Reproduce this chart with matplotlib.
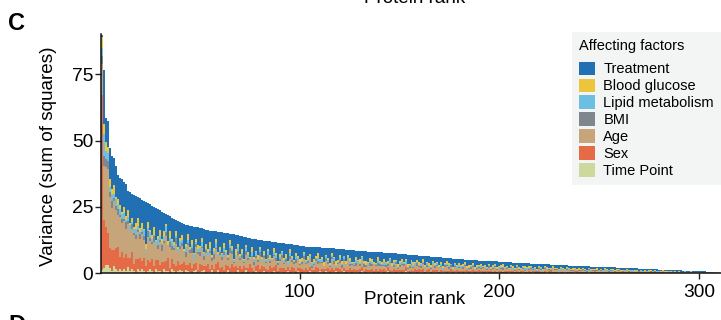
import matplotlib
matplotlib.use("Agg")
import matplotlib.pyplot as plt
import numpy as np
from matplotlib.patches import Patch

plt.rcParams['font.family'] = ['Liberation Sans', 'DejaVu Sans']

# ---------------- data ----------------
factors = ["Treatment", "Blood glucose", "Lipid metabolism", "BMI", "Age", "Sex", "Time Point"]
colors = ["#2270b4", "#ecc53c", "#6cbfe2", "#80868e", "#c6a57b", "#e66a45", "#cdd99c"]

# total variance (sum of squares) per protein, ordered by rank
total_variance = [
    90.0, 76.5, 58.5, 57.5, 47.0, 44.0, 43.5, 40.5, 37.0, 36.0,
    35.5, 34.5, 33.5, 31.0, 30.5, 30.0, 29.6, 29.2, 28.7, 28.2,
    27.7, 27.2, 26.8, 26.4, 25.9, 25.3, 24.9, 24.5, 24.0, 23.6,
    23.2, 22.8, 22.4, 21.9, 21.4, 20.9, 20.4, 20.0, 19.6, 19.2,
    18.9, 18.6, 18.3, 18.0, 17.8, 17.6, 17.5, 17.4, 17.3, 17.1,
    16.8, 16.5, 16.3, 16.1, 16.0, 15.9, 15.8, 15.7, 15.6, 15.4,
    15.3, 15.2, 15.1, 15.0, 14.9, 14.8, 14.6, 14.4, 14.2, 14.0,
    13.8, 13.6, 13.5, 13.3, 13.1, 12.9, 12.8, 12.7, 12.5, 12.4,
    12.3, 12.2, 12.1, 12.0, 11.9, 11.8, 11.7, 11.6, 11.5, 11.4,
    11.3, 11.2, 11.1, 11.0, 10.9, 10.8, 10.7, 10.6, 10.5, 10.3,
    10.2, 10.1, 10.0, 9.95, 9.9, 9.85, 9.8, 9.75, 9.7, 9.65,
    9.6, 9.55, 9.5, 9.45, 9.4, 9.35, 9.3, 9.2, 9.1, 9.0,
    8.95, 8.9, 8.85, 8.8, 8.7, 8.6, 8.5, 8.45, 8.4, 8.3,
    8.25, 8.2, 8.15, 8.1, 8.05, 8.0, 7.95, 7.9, 7.85, 7.8,
    7.75, 7.7, 7.65, 7.6, 7.55, 7.5, 7.45, 7.4, 7.35, 7.3,
    7.2, 7.1, 7.0, 6.95, 6.9, 6.85, 6.8, 6.7, 6.65, 6.6,
    6.55, 6.5, 6.45, 6.4, 6.3, 6.2, 6.1, 6.0, 5.95, 5.9,
    5.85, 5.8, 5.7, 5.6, 5.55, 5.5, 5.45, 5.4, 5.3, 5.2,
    5.15, 5.1, 5.05, 5.0, 4.95, 4.9, 4.85, 4.8, 4.75, 4.7,
    4.65, 4.6, 4.6, 4.55, 4.5, 4.5, 4.45, 4.4, 4.35, 4.3,
    4.25, 4.2, 4.15, 4.1, 4.05, 4.0, 3.95, 3.9, 3.85, 3.8,
    3.75, 3.7, 3.7, 3.65, 3.6, 3.55, 3.5, 3.5, 3.45, 3.4,
    3.4, 3.35, 3.3, 3.3, 3.25, 3.2, 3.2, 3.15, 3.1, 3.05,
    3.0, 2.95, 2.9, 2.85, 2.8, 2.8, 2.75, 2.7, 2.7, 2.65,
    2.6, 2.6, 2.55, 2.5, 2.5, 2.45, 2.45, 2.4, 2.4, 2.35,
    2.3, 2.3, 2.25, 2.2, 2.2, 2.15, 2.1, 2.1, 2.05, 2.0,
    1.95, 1.9, 1.9, 1.85, 1.8, 1.8, 1.75, 1.7, 1.7, 1.65,
    1.6, 1.6, 1.55, 1.5, 1.5, 1.45, 1.45, 1.4, 1.35, 1.3,
    1.3, 1.25, 1.2, 1.2, 1.15, 1.1, 1.05, 1.0, 1.0, 0.95,
    0.95, 0.9, 0.9, 0.85, 0.8, 0.8, 0.75, 0.7, 0.7, 0.65,
    0.65, 0.6, 0.6, 0.55, 0.55, 0.5, 0.5, 0.45, 0.45, 0.4,
]

# relative contribution of each factor per protein (estimated shares)
treatment = [
    1, 20, 9, 10, 12, 14, 12, 15, 12, 14,
    16, 12, 15, 10, 16, 13, 18, 14, 11, 16,
    12, 15, 17, 10, 14, 16, 11, 17, 14, 10,
    15, 10, 5, 16, 8, 12, 15, 6, 17, 10,
    8, 16, 12, 5, 15, 9, 17, 7, 12, 14,
    6, 16, 10, 14, 8, 18, 12, 5, 15, 10,
    16, 7, 12, 15, 5, 10, 17, 11, 7, 14,
    9, 18, 6, 12, 15, 7, 16, 10, 12, 5,
    15, 9, 16, 7, 12, 14, 5, 10, 17, 11,
    7, 14, 9, 16, 5, 12, 15, 8, 10, 16,
    12, 5, 15, 10, 7, 16, 12, 9, 6, 14,
    10, 15, 7, 12, 16, 5, 10, 14, 12, 7,
    15, 7, 12, 5, 10, 14, 16, 7, 12, 9,
    5, 12, 10, 15, 7, 10, 13, 16, 6, 10,
    12, 7, 15, 10, 5, 13, 10, 7, 15, 12,
    7, 10, 5, 13, 15, 7, 10, 12, 5, 11,
    11, 5, 13, 8, 10, 15, 6, 10, 7, 13,
    8, 13, 10, 5, 8, 11, 14, 7, 10, 6,
    11, 8, 5, 13, 10, 8, 6, 14, 12, 7,
    6, 10, 8, 14, 6, 12, 8, 5, 11, 8,
    8, 5, 11, 8, 13, 6, 8, 14, 6, 9,
    12, 8, 6, 11, 8, 5, 11, 8, 13, 6,
    8, 14, 6, 8, 11, 8, 5, 11, 8, 12,
    6, 8, 12, 5, 8, 13, 8, 6, 14, 8,
    11, 6, 8, 14, 5, 8, 11, 8, 6, 12,
    8, 12, 5, 8, 11, 6, 8, 14, 8, 5,
    11, 8, 9, 5, 12, 8, 6, 11, 8, 13,
    5, 11, 8, 12, 6, 8, 13, 6, 9, 11,
    8, 5, 12, 8, 9, 11, 5, 8, 12, 8,
    12, 8, 5, 11, 8, 6, 13, 8, 11, 5,
    8, 12, 8, 6, 11, 8, 12, 6, 8, 11,
]
blood_glucose = [
    4, 4, 3, 2, 3, 2, 4, 1, 3, 2,
    1, 3, 2, 4, 1, 2, 1, 3, 4, 2,
    3, 1, 2, 3, 1, 2, 4, 1, 2, 3,
    2, 3, 1, 2, 4, 1, 2, 3, 1, 2,
    3, 1, 2, 4, 1, 3, 1, 2, 3, 1,
    2, 1, 3, 2, 4, 1, 2, 3, 1, 2,
    1, 3, 2, 1, 3, 2, 1, 4, 2, 1,
    3, 1, 2, 3, 1, 4, 2, 1, 3, 2,
    2, 3, 1, 2, 4, 1, 3, 2, 1, 3,
    1, 2, 4, 1, 3, 2, 1, 3, 2, 4,
    3, 2, 1, 4, 2, 1, 3, 2, 4, 1,
    2, 4, 1, 3, 2, 3, 1, 4, 2, 3,
    4, 1, 3, 2, 4, 1, 2, 3, 1, 4,
    2, 3, 4, 1, 3, 4, 2, 1, 4, 2,
    3, 4, 2, 3, 1, 4, 3, 2, 4, 3,
    4, 2, 3, 4, 2, 3, 4, 1, 3, 4,
    2, 4, 3, 2, 4, 3, 1, 4, 2, 3,
    4, 3, 2, 5, 3, 1, 4, 3, 2, 4,
    3, 4, 2, 3, 5, 2, 3, 4, 3, 2,
    4, 2, 5, 3, 2, 4, 3, 2, 4, 3,
    3, 5, 2, 4, 3, 2, 4, 3, 2, 5,
    2, 3, 4, 2, 5, 3, 2, 4, 3, 2,
    4, 2, 3, 5, 2, 4, 3, 2, 4, 3,
    3, 4, 2, 3, 4, 2, 5, 3, 2, 4,
    2, 3, 5, 2, 3, 4, 2, 3, 5, 2,
    4, 2, 3, 4, 2, 3, 5, 2, 3, 4,
    3, 5, 2, 3, 4, 2, 3, 4, 2, 3,
    2, 3, 4, 2, 3, 5, 2, 3, 4, 2,
    5, 2, 3, 4, 2, 3, 4, 2, 3, 5,
    3, 4, 2, 3, 5, 2, 3, 4, 2, 3,
    2, 3, 5, 2, 3, 4, 2, 3, 4, 2,
]
lipid_metabolism = [
    3, 8, 3, 3, 2, 3, 2, 3, 2, 3,
    2, 3, 1, 2, 3, 1, 2, 3, 2, 1,
    2, 3, 1, 2, 3, 2, 1, 2, 3, 2,
    1, 2, 3, 1, 2, 3, 2, 1, 2, 3,
    2, 1, 3, 2, 1, 2, 3, 1, 2, 3,
    3, 2, 1, 3, 2, 1, 2, 3, 2, 1,
    2, 3, 2, 1, 3, 2, 1, 2, 3, 2,
    1, 2, 3, 2, 1, 3, 2, 3, 1, 2,
    3, 1, 2, 3, 2, 1, 3, 2, 1, 2,
    2, 3, 1, 2, 3, 2, 1, 3, 2, 1,
    1, 2, 3, 1, 2, 3, 2, 1, 3, 2,
    3, 1, 2, 3, 1, 2, 3, 2, 1, 3,
    2, 3, 1, 2, 3, 1, 2, 3, 2, 1,
    3, 2, 1, 3, 2, 3, 1, 2, 3, 2,
    1, 3, 2, 1, 3, 2, 3, 1, 2, 3,
    2, 1, 3, 2, 1, 3, 2, 3, 1, 2,
    3, 2, 1, 3, 2, 1, 3, 2, 3, 1,
    2, 3, 2, 1, 3, 2, 1, 3, 2, 3,
    1, 2, 3, 2, 1, 3, 2, 1, 3, 2,
    3, 1, 2, 3, 2, 1, 3, 2, 1, 3,
    2, 3, 1, 2, 3, 2, 1, 3, 2, 1,
    3, 2, 3, 1, 2, 3, 2, 1, 3, 2,
    1, 3, 2, 3, 1, 2, 3, 2, 1, 3,
    2, 1, 3, 2, 3, 1, 2, 3, 2, 1,
    3, 2, 1, 3, 2, 3, 1, 2, 3, 2,
    1, 3, 2, 1, 3, 2, 3, 1, 2, 3,
    2, 1, 3, 2, 1, 3, 2, 3, 1, 2,
    3, 2, 1, 3, 2, 1, 3, 2, 3, 1,
    2, 3, 2, 1, 3, 2, 1, 3, 2, 3,
    1, 2, 3, 2, 1, 3, 2, 1, 3, 2,
    3, 1, 2, 3, 2, 1, 3, 2, 1, 3,
]
bmi = [
    3, 4, 3, 3, 2, 3, 1, 2, 3, 1,
    2, 1, 3, 2, 0, 3, 1, 2, 1, 3,
    1, 2, 0, 3, 2, 1, 3, 0, 2, 1,
    3, 1, 2, 0, 3, 2, 1, 3, 0, 2,
    2, 0, 3, 1, 2, 3, 0, 2, 1, 3,
    1, 3, 2, 0, 1, 2, 3, 1, 0, 2,
    3, 2, 0, 1, 3, 2, 1, 0, 3, 1,
    2, 1, 3, 2, 0, 1, 3, 2, 1, 3,
    0, 2, 1, 3, 2, 0, 1, 3, 2, 1,
    3, 1, 2, 0, 3, 2, 1, 3, 0, 2,
    2, 3, 1, 2, 0, 3, 1, 2, 3, 1,
    1, 0, 3, 2, 1, 2, 3, 0, 1, 3,
    3, 2, 1, 0, 3, 1, 2, 3, 1, 2,
    0, 3, 2, 1, 3, 2, 0, 1, 3, 2,
    2, 1, 3, 2, 1, 0, 3, 2, 1, 3,
    1, 3, 0, 2, 3, 1, 2, 0, 3, 1,
    3, 2, 1, 3, 0, 2, 1, 3, 2, 0,
    2, 0, 3, 1, 2, 3, 1, 2, 0, 3,
    1, 3, 2, 0, 1, 3, 2, 1, 3, 2,
    3, 1, 0, 2, 3, 1, 2, 3, 1, 0,
    2, 3, 1, 2, 0, 3, 1, 2, 3, 1,
    0, 2, 3, 1, 2, 1, 3, 0, 2, 3,
    3, 1, 2, 0, 3, 2, 1, 3, 1, 2,
    1, 2, 0, 3, 1, 3, 2, 1, 0, 3,
    2, 3, 1, 2, 3, 0, 2, 1, 3, 2,
    3, 0, 2, 1, 2, 3, 1, 2, 0, 1,
    1, 2, 3, 0, 2, 1, 3, 2, 1, 3,
    2, 1, 0, 3, 1, 2, 0, 3, 2, 1,
    0, 3, 2, 1, 3, 1, 2, 0, 1, 2,
    3, 1, 2, 3, 0, 2, 3, 1, 2, 3,
    1, 2, 3, 0, 2, 1, 2, 3, 1, 0,
]
age = [
    12, 20, 22, 24, 20, 18, 22, 18, 16, 20,
    14, 18, 12, 18, 14, 12, 16, 10, 14, 10,
    14, 10, 6, 12, 11, 8, 13, 8, 6, 12,
    6, 10, 12, 7, 11, 5, 9, 12, 6, 10,
    11, 6, 5, 12, 7, 10, 3, 9, 11, 6,
    10, 4, 9, 6, 11, 3, 7, 10, 4, 9,
    5, 10, 7, 4, 11, 8, 3, 7, 10, 5,
    8, 2, 10, 7, 4, 9, 5, 7, 3, 10,
    4, 8, 5, 10, 3, 7, 9, 4, 5, 7,
    9, 4, 7, 2, 10, 5, 4, 8, 7, 3,
    5, 10, 4, 7, 9, 2, 5, 7, 4, 8,
    7, 3, 8, 5, 4, 10, 7, 2, 5, 7,
    4, 8, 5, 10, 2, 7, 4, 5, 8, 4,
    8, 5, 2, 7, 5, 4, 8, 5, 7, 4,
    5, 4, 7, 2, 8, 5, 4, 7, 2, 5,
    7, 5, 4, 2, 5, 7, 4, 8, 5, 4,
    4, 7, 5, 4, 2, 5, 8, 4, 5, 7,
    5, 2, 7, 8, 4, 5, 2, 7, 4, 5,
    7, 4, 8, 2, 5, 4, 7, 2, 5, 4,
    4, 7, 5, 4, 7, 2, 5, 8, 4, 5,
    5, 4, 7, 5, 2, 7, 4, 2, 7, 4,
    4, 5, 2, 7, 4, 8, 4, 5, 2, 7,
    5, 2, 7, 4, 5, 2, 7, 4, 5, 2,
    7, 4, 2, 5, 7, 4, 2, 5, 4, 5,
    4, 7, 4, 2, 8, 5, 4, 2, 5, 4,
    5, 4, 7, 5, 2, 4, 5, 4, 7, 5,
    4, 2, 5, 7, 4, 5, 4, 2, 5, 4,
    5, 4, 7, 2, 5, 4, 7, 4, 2, 5,
    4, 7, 2, 5, 4, 2, 7, 5, 4, 4,
    5, 2, 7, 4, 5, 7, 2, 4, 5, 7,
    4, 5, 2, 7, 4, 5, 4, 7, 2, 4,
]
sex = [
    66, 18, 14, 12, 8, 9, 7, 10, 12, 6,
    9, 5, 8, 5, 7, 9, 4, 7, 5, 7,
    4, 7, 3, 6, 4, 7, 4, 5, 6, 3,
    6, 4, 5, 8, 3, 6, 5, 4, 7, 3,
    5, 7, 3, 4, 6, 3, 5, 4, 2, 6,
    4, 3, 5, 6, 2, 4, 3, 5, 6, 3,
    4, 2, 5, 3, 4, 6, 3, 5, 2, 4,
    3, 5, 2, 4, 6, 3, 2, 4, 5, 3,
    5, 3, 4, 2, 5, 4, 3, 6, 2, 4,
    3, 5, 2, 4, 3, 5, 4, 2, 3, 5,
    4, 2, 5, 3, 4, 2, 3, 5, 4, 2,
    3, 4, 2, 5, 3, 4, 2, 3, 5, 4,
    2, 4, 3, 2, 5, 3, 4, 2, 3, 4,
    5, 2, 4, 3, 2, 4, 3, 5, 2, 4,
    3, 4, 2, 5, 3, 2, 4, 3, 2, 4,
    4, 3, 5, 2, 4, 3, 2, 4, 3, 5,
    3, 4, 2, 3, 5, 2, 4, 3, 4, 2,
    4, 2, 3, 4, 2, 5, 3, 2, 4, 3,
    3, 4, 2, 5, 3, 2, 4, 3, 2, 4,
    2, 3, 4, 2, 3, 5, 2, 4, 3, 2,
    4, 2, 3, 4, 2, 3, 4, 2, 5, 3,
    3, 4, 2, 3, 4, 2, 3, 5, 2, 4,
    2, 3, 4, 2, 5, 3, 2, 4, 3, 2,
    4, 3, 2, 4, 3, 2, 4, 3, 5, 2,
    3, 2, 4, 3, 2, 4, 3, 5, 2, 3,
    2, 4, 3, 2, 4, 3, 2, 3, 4, 5,
    4, 3, 2, 4, 3, 2, 4, 3, 2, 3,
    3, 2, 4, 3, 2, 4, 3, 2, 4, 3,
    2, 4, 3, 2, 3, 4, 2, 4, 3, 2,
    3, 2, 4, 3, 2, 3, 4, 2, 3, 4,
    2, 3, 2, 4, 3, 2, 3, 4, 2, 3,
]
time_point = [
    1, 2, 3, 3, 2, 1, 3, 2, 1, 2,
    1, 2, 1, 3, 1, 2, 1, 0, 2, 1,
    2, 1, 0, 1, 2, 1, 0, 2, 1, 1,
    0, 2, 1, 1, 0, 2, 1, 0, 1, 2,
    1, 0, 2, 1, 1, 0, 1, 2, 0, 1,
    1, 2, 0, 1, 1, 2, 0, 1, 2, 0,
    1, 0, 1, 2, 0, 1, 1, 0, 2, 1,
    0, 1, 2, 0, 1, 1, 0, 2, 1, 0,
    1, 2, 0, 1, 1, 0, 2, 1, 0, 1,
    1, 0, 1, 2, 0, 1, 1, 0, 2, 1,
    0, 1, 1, 0, 2, 1, 0, 1, 1, 2,
    1, 0, 2, 1, 0, 1, 1, 2, 0, 1,
    1, 2, 0, 1, 1, 0, 2, 1, 1, 0,
    2, 1, 0, 1, 1, 2, 0, 1, 0, 1,
    1, 0, 1, 2, 0, 1, 1, 0, 2, 1,
    0, 1, 2, 1, 0, 1, 1, 2, 0, 1,
    1, 2, 0, 1, 1, 0, 1, 2, 1, 0,
    2, 1, 1, 0, 1, 2, 0, 1, 1, 0,
    1, 0, 2, 1, 0, 1, 1, 0, 2, 1,
    1, 1, 0, 2, 1, 0, 1, 1, 0, 2,
    0, 1, 1, 0, 2, 1, 0, 1, 1, 0,
    1, 2, 0, 1, 1, 0, 2, 1, 0, 1,
    1, 0, 1, 2, 0, 1, 1, 0, 1, 2,
    0, 1, 2, 0, 1, 1, 0, 2, 1, 0,
    1, 1, 0, 1, 2, 0, 1, 1, 0, 1,
    2, 0, 1, 1, 0, 2, 1, 0, 1, 1,
    0, 1, 1, 2, 0, 1, 1, 0, 2, 1,
    1, 0, 2, 1, 1, 0, 1, 2, 0, 1,
    1, 2, 0, 1, 0, 1, 2, 1, 0, 1,
    0, 1, 1, 0, 2, 1, 0, 1, 1, 2,
    1, 0, 1, 2, 0, 1, 1, 0, 2, 1,
]

x_ticks = [100, 200, 300]
y_ticks = [0, 25, 50, 75]

# ---------------- figure ----------------
series = [treatment, blood_glucose, lipid_metabolism, bmi, age, sex, time_point]
for s in series:
    assert len(s) == len(total_variance), len(s)

W = np.array(series, dtype=float)
shares = W / W.sum(axis=0)
values = shares * np.array(total_variance)
rank = np.arange(1, len(total_variance) + 1)

fig = plt.figure(figsize=(7.21, 3.2), dpi=100)
ax = fig.add_axes([101 / 721, 47 / 320, 620 / 721, 239 / 320])

bottom = np.zeros(len(rank))
# stack from bottom: Time Point, Sex, Age, BMI, Lipid, Glucose, Treatment
for i in range(len(series) - 1, -1, -1):
    ax.bar(rank, values[i], bottom=bottom, width=1.0, color=colors[i], linewidth=0)
    bottom = bottom + values[i]

ax.set_xlim(0.5, 311)
ax.set_ylim(0, 90.2)
ax.set_xticks(x_ticks)
ax.set_yticks(y_ticks)
ax.tick_params(axis='both', labelsize=13.8, length=4, width=1, color='#222222')
ax.tick_params(axis='y', pad=1.5)
ax.tick_params(axis='x', pad=4)
for sp in ['top', 'right']:
    ax.spines[sp].set_visible(False)
for sp in ['left', 'bottom']:
    ax.spines[sp].set_linewidth(1.1)
    ax.spines[sp].set_color('#111111')

ax.set_xlabel('Protein rank', fontsize=13.6)
ax.set_ylabel('Variance (sum of squares)', fontsize=13.6)
ax.xaxis.set_label_coords(0.506, -0.075)
ax.yaxis.set_label_coords(-0.071, 0.49)

handles = [Patch(facecolor=c, edgecolor='none') for c in colors]
leg = fig.legend(handles, factors, title='Affecting factors', loc='upper left',
                 bbox_to_anchor=(572 / 721, 1 - 32 / 320), fontsize=10.5,
                 title_fontsize=10.5, frameon=True, fancybox=False,
                 handlelength=1.05, handleheight=1.05, handletextpad=0.6,
                 labelspacing=0.15, borderpad=0.5, borderaxespad=0,
                 alignment='left')
leg._legend_box.sep = 6
leg.get_frame().set_facecolor('#f3f5f5')
leg.get_frame().set_edgecolor('none')
leg.get_frame().set_alpha(1)

fig.text(8 / 721, 1 - 30 / 320, 'C', fontsize=17, fontweight='bold', va='baseline')
fig.text(8 / 721, 1 - 332 / 320, 'D', fontsize=17, fontweight='bold', va='baseline')
fig.text(415 / 721, 1 - 3 / 320, 'Protein rank', fontsize=13.6, ha='center', va='baseline')

fig.savefig('out.png', dpi=100)
